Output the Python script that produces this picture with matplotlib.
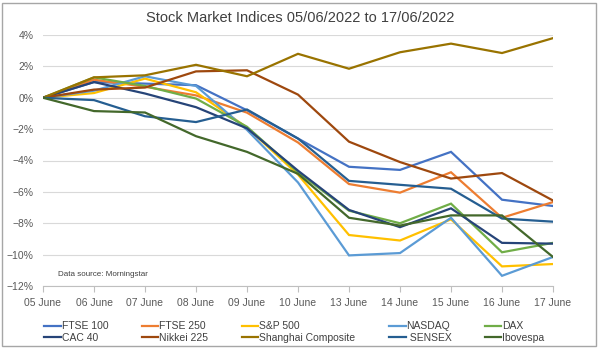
import matplotlib
matplotlib.use("Agg")
import matplotlib.pyplot as plt
from matplotlib.patches import Rectangle
from matplotlib.ticker import PercentFormatter

plt.rcParams["font.family"] = ["Liberation Sans", "DejaVu Sans"]

dates = ["05 June", "06 June", "07 June", "08 June", "09 June", "10 June",
         "13 June", "14 June", "15 June", "16 June", "17 June"]

ftse100 = [0, 1.0, 0.9, 0.8, -0.8, -2.6, -4.4, -4.6, -3.45, -6.5, -6.9]
ftse250 = [0, 1.15, 0.7, 0.15, -0.95, -2.85, -5.5, -6.05, -4.75, -7.65, -6.65]
sp500 = [0, 0.3, 1.22, 0.35, -1.9, -4.9, -8.75, -9.1, -7.75, -10.75, -10.6]
nasdaq = [0, 0.45, 1.37, 0.75, -2.05, -5.4, -10.05, -9.9, -7.65, -11.35, -10.15]
dax = [0, 1.3, 0.75, -0.05, -1.85, -4.75, -7.2, -8.0, -6.75, -9.85, -9.25]
cac40 = [0, 1.0, 0.27, -0.6, -1.95, -4.65, -7.15, -8.25, -7.05, -9.25, -9.3]
nikkei = [0, 0.52, 0.65, 1.68, 1.75, 0.2, -2.8, -4.1, -5.15, -4.8, -6.55]
shanghai = [0, 1.3, 1.43, 2.1, 1.37, 2.8, 1.85, 2.9, 3.45, 2.85, 3.8]
sensex = [0, -0.15, -1.18, -1.55, -0.75, -2.6, -5.3, -5.55, -5.8, -7.7, -7.9]
ibovespa = [0, -0.85, -0.94, -2.45, -3.45, -4.85, -7.65, -8.15, -7.5, -7.5, -10.15]

series = [
    ("FTSE 100", ftse100, "#4472C4"),
    ("FTSE 250", ftse250, "#ED7D31"),
    ("S&P 500", sp500, "#FFC000"),
    ("NASDAQ", nasdaq, "#5B9BD5"),
    ("DAX", dax, "#70AD47"),
    ("CAC 40", cac40, "#264478"),
    ("Nikkei 225", nikkei, "#9E480E"),
    ("Shanghai Composite", shanghai, "#997300"),
    (" SENSEX", sensex, "#255E91"),
    ("Ibovespa", ibovespa, "#43682B"),
]

fig = plt.figure(figsize=(6, 3.56), dpi=100)
ax = fig.add_axes([43 / 600, 1 - 286 / 356, 510 / 600, 251 / 356])

x = list(range(len(dates)))
handles = []
for name, vals, col in series:
    (h,) = ax.plot(x, vals, color=col, lw=1.6, label=name, solid_joinstyle="miter")
    handles.append(h)

ax.set_xlim(0, len(dates) - 1)
ax.set_ylim(-12, 4)
ax.set_yticks(range(-12, 5, 2))
ax.yaxis.set_major_formatter(PercentFormatter(decimals=0))
ax.set_xticks(x)
ax.set_xticklabels(dates)
ax.grid(axis="y", color="#D9D9D9", lw=0.8)
ax.set_axisbelow(True)
for s in ["top", "right", "left"]:
    ax.spines[s].set_visible(False)
ax.spines["bottom"].set_color("#BFBFBF")
ax.tick_params(axis="y", length=0, pad=7, labelsize=7.5, labelcolor="#595959")
ax.tick_params(axis="x", length=4, color="#BFBFBF", pad=5, labelsize=7.5, labelcolor="#595959")

fig.text(0.5, 1 - 18 / 356, "Stock Market Indices 05/06/2022 to 17/06/2022",
         ha="center", va="center", fontsize=10.5, color="#404040")
fig.text(58 / 600, 1 - 275 / 356, "Data source: Morningstar",
         ha="left", va="center", fontsize=5.8, color="#404040")

# legend filled row by row
order = [0, 5, 1, 6, 2, 7, 3, 8, 4, 9]
leg = fig.legend([handles[i] for i in order], [series[i][0] for i in order],
                 ncol=5, loc="center left", bbox_to_anchor=(44 / 600, 1 - 332 / 356),
                 frameon=False, fontsize=7.5, handlelength=1.6, handletextpad=0.1,
                 columnspacing=3.2, labelspacing=0.15, borderpad=0, borderaxespad=0)
for t in leg.get_texts():
    t.set_color("#404040")

fig.patches.append(Rectangle((2 / 600, 1 - 346 / 356), 594 / 600, 343 / 356,
                             transform=fig.transFigure, fill=False,
                             edgecolor="#A6A6A6", lw=1))

fig.savefig("out.png", dpi=100)
